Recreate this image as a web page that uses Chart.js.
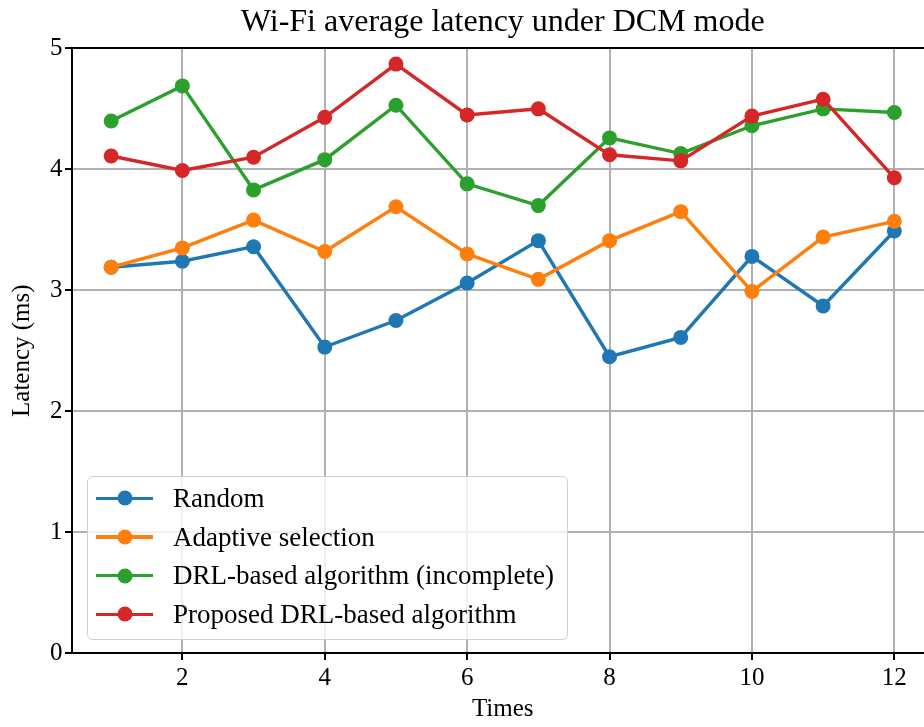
<!DOCTYPE html>
<html>
<head>
<meta charset="utf-8">
<script src="https://cdn.jsdelivr.net/npm/chart.js@4.4.0/dist/chart.umd.min.js"></script>
<style>
    body { margin: 0; overflow: hidden; background: #fff; }
    #wrap { position: relative; width: 941px; height: 727px; }
    #legend {
        position: absolute; left: 87px; top: 476px;
        width: 481px; height: 164px;
        border: 1px solid #d0d0d0; border-radius: 6px;
        background: rgba(255, 255, 255, 0.8);
        font-family: "Liberation Serif", "Times New Roman", serif;
        font-size: 27px; color: #000;
        padding-top: 2px; box-sizing: border-box;
    }
    #legend .item { height: 38.7px; display: flex; align-items: center; white-space: nowrap; }
    #legend .swatch { position: relative; width: 57px; height: 3.4px; margin: 0 20px 0 8px; }
    #legend .swatch::after {
        content: ""; position: absolute; left: 50%; top: 50%;
        width: 15px; height: 15px; border-radius: 50%;
        transform: translate(-50%, -50%); background: inherit;
    }
</style>
</head>
<body>
<div id="wrap">
    <canvas id="latencyChart" width="941" height="727"></canvas>
    <div id="legend"></div>
</div>
<script>
// --- 데이터 ---
const times = [1, 2, 3, 4, 5, 6, 7, 8, 9, 10, 11, 12];
const randomLatency   = [3.19, 3.24, 3.36, 2.53, 2.75, 3.06, 3.41, 2.45, 2.61, 3.28, 2.87, 3.49];
const adaptiveLatency = [3.19, 3.35, 3.58, 3.32, 3.69, 3.30, 3.09, 3.41, 3.65, 2.99, 3.44, 3.57];
const drlIncomplete   = [4.40, 4.69, 3.83, 4.08, 4.53, 3.88, 3.70, 4.26, 4.13, 4.36, 4.50, 4.47];
const proposedDrl     = [4.11, 3.99, 4.10, 4.43, 4.87, 4.45, 4.50, 4.12, 4.07, 4.44, 4.58, 3.93];

const seriesNames = ['Random', 'Adaptive selection', 'DRL-based algorithm (incomplete)', 'Proposed DRL-based algorithm'];
const seriesColors = ['#1f77b4', '#ff7f0e', '#2ca02c', '#d62728'];
const seriesValues = [randomLatency, adaptiveLatency, drlIncomplete, proposedDrl];

const xTicks = [2, 4, 6, 8, 10, 12];
const yTicks = [0, 1, 2, 3, 4, 5];

const FONT = '"Liberation Serif", "Times New Roman", serif';

function buildDatasets() {
    return seriesValues.map((values, i) => ({
        label: seriesNames[i],
        data: times.map((t, j) => ({ x: t, y: values[j] })),
        borderColor: seriesColors[i],
        backgroundColor: seriesColors[i],
        pointBackgroundColor: seriesColors[i],
        borderWidth: 3.4,
        pointRadius: 7.5,
        pointBorderWidth: 0,
        tension: 0,
        // 나중 시리즈가 위에 그려지도록
        order: seriesValues.length - i
    }));
}

function renderLegend() {
    const legend = document.getElementById('legend');
    seriesNames.forEach((name, i) => {
        const item = document.createElement('div');
        item.className = 'item';
        const swatch = document.createElement('span');
        swatch.className = 'swatch';
        swatch.style.background = seriesColors[i];
        const text = document.createElement('span');
        text.textContent = name;
        item.appendChild(swatch);
        item.appendChild(text);
        legend.appendChild(item);
    });
}

const ctx = document.getElementById('latencyChart').getContext('2d');
new Chart(ctx, {
    type: 'line',
    data: { datasets: buildDatasets() },
    options: {
        responsive: false,
        animation: false,
        layout: { padding: 0 },
        plugins: {
            legend: { display: false },
            tooltip: { enabled: false },
            title: {
                display: true,
                text: 'Wi-Fi average latency under DCM mode',
                fullSize: false,
                color: '#000',
                font: { family: FONT, size: 32, weight: 'normal' },
                padding: { top: 3, bottom: 7 }
            }
        },
        scales: {
            x: {
                type: 'linear',
                min: 0.45,
                max: 12.55,
                afterBuildTicks: scale => { scale.ticks = xTicks.map(v => ({ value: v })); },
                afterFit: scale => { scale.height = 74; },
                ticks: { color: '#000', font: { family: FONT, size: 25 }, padding: 3.6, maxRotation: 0 },
                grid: { color: '#b0b0b0', lineWidth: 2, tickColor: '#000', tickLength: 7, tickWidth: 2 },
                border: { color: '#000', width: 2 },
                title: { display: true, text: 'Times', color: '#000', font: { family: FONT, size: 25 }, padding: { top: 0, bottom: 2.4 } }
            },
            xTop: {
                type: 'linear',
                position: 'top',
                min: 0.45,
                max: 12.55,
                afterFit: scale => { scale.height = 0; },
                ticks: { display: false },
                grid: { display: false },
                border: { color: '#000', width: 2 }
            },
            y: {
                min: 0,
                max: 5,
                afterBuildTicks: scale => { scale.ticks = yTicks.map(v => ({ value: v })); },
                afterFit: scale => { scale.width = 72; },
                ticks: { color: '#000', font: { family: FONT, size: 25 }, padding: 2.5 },
                grid: { color: '#b0b0b0', lineWidth: 2, tickColor: '#000', tickLength: 7, tickWidth: 2 },
                border: { color: '#000', width: 2 },
                title: { display: true, text: 'Latency (ms)', color: '#000', font: { family: FONT, size: 25 }, padding: { top: 7, bottom: 0 } }
            }
        }
    }
});

renderLegend();
</script>
</body>
</html>
